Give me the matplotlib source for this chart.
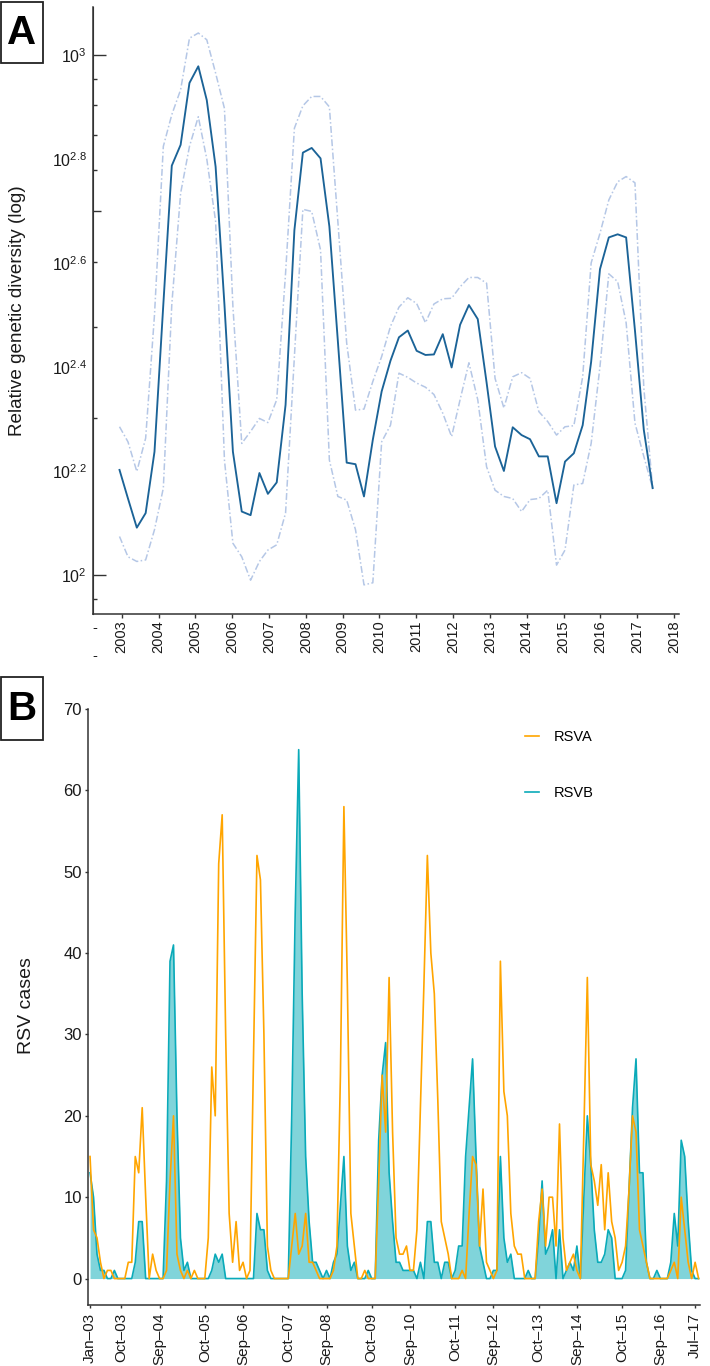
import matplotlib
matplotlib.use("Agg")
import matplotlib.pyplot as plt
import numpy as np
import pandas as pd
from matplotlib.patches import Rectangle

plt.rcParams["font.family"] = ["Liberation Sans", "DejaVu Sans"]
plt.rcParams["mathtext.fontset"] = "custom"
plt.rcParams["mathtext.rm"] = "Liberation Sans"
plt.rcParams["mathtext.it"] = "Liberation Sans:italic"
plt.rcParams["mathtext.bf"] = "Liberation Sans:bold"

# ---- Panel A: relative genetic diversity (values stored as log10 exponents)
years_a = [
    2002.94, 2003.17, 2003.41, 2003.65, 2003.89, 2004.13, 2004.36, 2004.60,
    2004.84, 2005.08, 2005.31, 2005.55, 2005.79, 2006.02, 2006.26, 2006.50,
    2006.74, 2006.97, 2007.21, 2007.45, 2007.69, 2007.92, 2008.16, 2008.40,
    2008.64, 2008.87, 2009.11, 2009.35, 2009.58, 2009.82, 2010.06, 2010.30,
    2010.53, 2010.77, 2011.01, 2011.25, 2011.48, 2011.72, 2011.96, 2012.19,
    2012.43, 2012.67, 2012.91, 2013.14, 2013.38, 2013.62, 2013.86, 2014.09,
    2014.33, 2014.57, 2014.81, 2015.04, 2015.28, 2015.52, 2015.75, 2015.99,
    2016.23, 2016.47, 2016.70, 2016.94, 2017.18, 2017.42,
]
median_exp = [
    2.202, 2.147, 2.091, 2.119, 2.237, 2.52, 2.787, 2.827, 2.946, 2.978,
    2.913, 2.785, 2.52, 2.237, 2.122, 2.115, 2.196, 2.156, 2.178, 2.327,
    2.663, 2.812, 2.821, 2.801, 2.670, 2.45, 2.216, 2.213, 2.151, 2.26,
    2.353, 2.412, 2.457, 2.47, 2.431, 2.423, 2.424, 2.463, 2.399, 2.481,
    2.519, 2.492, 2.37, 2.247, 2.2, 2.284, 2.269, 2.261, 2.228, 2.228,
    2.138, 2.218, 2.234, 2.288, 2.41, 2.588, 2.649, 2.655, 2.649, 2.47,
    2.279, 2.167,
]
upper_exp = [
    2.285, 2.256, 2.199, 2.263, 2.50, 2.824, 2.885, 2.933, 3.032, 3.042,
    3.029, 2.965, 2.897, 2.516, 2.253, 2.276, 2.301, 2.293, 2.337, 2.58,
    2.859, 2.902, 2.92, 2.92, 2.9, 2.68, 2.446, 2.317, 2.319, 2.372,
    2.42, 2.478, 2.515, 2.533, 2.522, 2.485, 2.521, 2.531, 2.532, 2.554,
    2.572, 2.572, 2.561, 2.378, 2.321, 2.381, 2.389, 2.378, 2.314, 2.295,
    2.269, 2.285, 2.287, 2.381, 2.6, 2.657, 2.721, 2.756, 2.766, 2.754,
    2.36, 2.167,
]
lower_exp = [
    2.074, 2.035, 2.026, 2.029, 2.087, 2.167, 2.52, 2.734, 2.824, 2.881,
    2.80, 2.68, 2.221, 2.061, 2.035, 1.990, 2.026, 2.048, 2.058, 2.119,
    2.42, 2.703, 2.699, 2.625, 2.221, 2.151, 2.144, 2.087, 1.981, 1.985,
    2.256, 2.288, 2.388, 2.380, 2.369, 2.361, 2.347, 2.311, 2.266, 2.337,
    2.408, 2.337, 2.208, 2.163, 2.151, 2.147, 2.122, 2.145, 2.147, 2.163,
    2.019, 2.048, 2.173, 2.176, 2.253, 2.401, 2.579, 2.564, 2.485, 2.292,
    2.228, 2.167,
]
year_ticks = list(range(2003, 2019))
ylabel_exps = [2.0, 2.2, 2.4, 2.6, 2.8, 3.0]

# ---- Panel B: monthly RSV cases, Jan 2003 onwards
rsva = [
    15, 6, 5, 2, 0, 1, 1, 0, 0, 0, 0, 2, 2, 15, 13, 21, 10, 0, 3, 1,
    0, 0, 1, 12, 20, 3, 1, 0, 1, 0, 1, 0, 0, 0, 5, 26, 20, 51, 57, 30,
    8, 2, 7, 1, 2, 0, 1, 27, 52, 49, 30, 4, 1, 0, 0, 0, 0, 0, 4, 8,
    3, 4, 8, 2, 2, 1, 0, 0, 0, 0, 1, 4, 25, 58, 36, 8, 4, 0, 0, 1,
    0, 0, 0, 12, 25, 18, 37, 18, 5, 3, 3, 4, 1, 1, 6, 21, 36, 52, 40, 35,
    22, 7, 5, 3, 0, 0, 0, 1, 0, 8, 15, 14, 4, 11, 2, 1, 0, 1, 39, 23,
    20, 8, 4, 3, 3, 0, 0, 0, 0, 7, 11, 4, 10, 10, 4, 19, 5, 1, 2, 3,
    1, 0, 18, 37, 14, 12, 9, 14, 6, 13, 7, 5, 1, 2, 4, 11, 20, 18, 6, 4,
    2, 0, 0, 0, 0, 0, 0, 1, 2, 0, 10, 6, 2, 0, 2, 0,
]
rsvb = [
    13, 10, 3, 1, 1, 0, 0, 1, 0, 0, 0, 0, 0, 2, 7, 7, 0, 0, 0, 0,
    0, 0, 12, 39, 41, 20, 5, 1, 2, 0, 0, 0, 0, 0, 0, 1, 3, 2, 3, 0,
    0, 0, 0, 0, 0, 0, 0, 0, 8, 6, 6, 1, 0, 0, 0, 0, 0, 0, 20, 45,
    65, 35, 15, 7, 2, 2, 1, 0, 1, 0, 2, 3, 9, 15, 4, 1, 2, 0, 0, 0,
    1, 0, 0, 17, 25, 29, 13, 7, 2, 2, 1, 1, 1, 1, 0, 2, 0, 7, 7, 2,
    2, 0, 2, 2, 0, 1, 4, 4, 15, 21, 27, 15, 4, 2, 0, 0, 1, 1, 15, 5,
    2, 3, 0, 0, 0, 0, 1, 0, 0, 5, 12, 3, 4, 6, 0, 6, 0, 1, 2, 1,
    4, 0, 10, 20, 14, 6, 2, 2, 3, 6, 5, 0, 0, 0, 1, 11, 21, 27, 13, 13,
    2, 0, 0, 1, 0, 0, 0, 2, 8, 4, 17, 15, 7, 1, 0, 0,
]
month_tick_labels = [
    "Jan–03", "Oct–03", "Sep–04", "Oct–05", "Sep–06", "Oct–07", "Sep–08",
    "Oct–09", "Sep–10", "Oct–11", "Sep–12", "Oct–13", "Sep–14", "Oct–15",
    "Sep–16", "Jul–17",
]

MAIN_BLUE = "#1b6397"
CI_BLUE = "#b5c7e6"
ORANGE = "#ffa500"
TEAL = "#0aaab9"
TEAL_FILL = "#80d4da"
AXIS_COLOR = "#333333"
TEXT_COLOR = "#1a1a1a"

W, H = 710, 1366
fig = plt.figure(figsize=(W / 100, H / 100), dpi=100)


def fig_box(left, top, right, bottom):
    return [left / W, 1 - bottom / H, (right - left) / W, (bottom - top) / H]


ax_a = fig.add_axes(fig_box(93, 7, 679, 614))
ax_b = fig.add_axes(fig_box(88.3, 709, 700, 1305))

# ---------------- Panel A ----------------
ci_style = (0, (4.5, 1.6, 1.0, 1.6))
ax_a.plot(years_a, 10 ** np.array(upper_exp), color=CI_BLUE, lw=1.1, ls=ci_style)
ax_a.plot(years_a, 10 ** np.array(lower_exp), color=CI_BLUE, lw=1.1, ls=ci_style)
ax_a.plot(years_a, 10 ** np.array(median_exp), color=MAIN_BLUE, lw=1.35)

ax_a.set_yscale("log")
ax_a.set_ylim(10 ** 1.925, 10 ** 3.092)
ax_a.set_xlim(2002.22, 2018.136)

ax_a.set_yticks(10 ** np.array(ylabel_exps))
ax_a.set_yticklabels(
    [r"$10^{3}$" if e == 3 else (r"$10^{2}$" if e == 2 else r"$10^{%.1f}$" % e) for e in ylabel_exps]
)
ax_a.set_yticks([90, 200, 300, 400, 600, 700, 800, 900], minor=True)
ax_a.yaxis.set_minor_formatter(matplotlib.ticker.NullFormatter())
ax_a.tick_params(axis="y", which="major", length=0, pad=4.5, labelsize=11.5, labelcolor=TEXT_COLOR)
ax_a.tick_params(axis="y", which="minor", direction="in", length=3.2, width=1.0, color=AXIS_COLOR)

# log ticks drawn inside the panel: long at decades, mid at 5x
sec = ax_a.secondary_yaxis("left")
sec.set_ticks([100, 1000])
sec.set_ticks([500], minor=True)
sec.tick_params(which="major", direction="in", length=9, width=1.0, color=AXIS_COLOR, labelleft=False)
sec.tick_params(which="minor", direction="in", length=6, width=1.0, color=AXIS_COLOR, labelleft=False)
sec.spines["left"].set_color(AXIS_COLOR)

ax_a.set_xticks(year_ticks)
ax_a.set_xticklabels([str(y) for y in year_ticks], rotation=90)
ax_a.tick_params(axis="x", direction="out", length=3, width=1.0, color=AXIS_COLOR,
                 pad=1.5, labelsize=10.5, labelcolor=TEXT_COLOR)

for ax in (ax_a, ax_b):
    ax.spines["top"].set_visible(False)
    ax.spines["right"].set_visible(False)
    ax.spines["left"].set_color(AXIS_COLOR)
    ax.spines["bottom"].set_color(AXIS_COLOR)
    ax.spines["left"].set_linewidth(1.1)
    ax.spines["bottom"].set_linewidth(1.1)
    ax.set_facecolor("white")

fig.text(18 / W, 1 - 311 / H, "Relative genetic diversity (log)", rotation=90,
         ha="center", va="center", fontsize=13.6, color=TEXT_COLOR)
fig.text(95 / W, 1 - 628 / H, "-", ha="center", va="center", fontsize=10.5, color=TEXT_COLOR)
fig.text(95 / W, 1 - 656 / H, "-", ha="center", va="center", fontsize=10.5, color=TEXT_COLOR)

# ---------------- Panel B ----------------
months = pd.date_range("2003-01-01", periods=len(rsva), freq="MS")
x_b = np.arange(len(months))
month_names = [m.strftime("%b–%y") for m in months]
tick_idx = [month_names.index(lbl) for lbl in month_tick_labels]

ax_b.fill_between(x_b, 0, rsvb, color=TEAL_FILL, lw=0)
line_b, = ax_b.plot(x_b, rsvb, color=TEAL, lw=1.2, label="RSVB")
line_a, = ax_b.plot(x_b, rsva, color=ORANGE, lw=1.2, label="RSVA")

ax_b.set_xlim(-0.5, 175.4)
ax_b.set_ylim(-3.25, 70)
ax_b.set_yticks(range(0, 71, 10))
ax_b.set_xticks(tick_idx)
ax_b.set_xticklabels(month_tick_labels, rotation=90)
ax_b.tick_params(axis="y", direction="out", length=2.5, width=1.0, color=AXIS_COLOR,
                 pad=2, labelsize=12, labelcolor=TEXT_COLOR)
ax_b.tick_params(axis="x", direction="out", length=2.5, width=1.0, color=AXIS_COLOR,
                 pad=3, labelsize=11, labelcolor=TEXT_COLOR)

ax_b.legend(handles=[line_a, line_b], loc="upper left", bbox_to_anchor=(0.714, 0.965),
            frameon=False, fontsize=10.5, handlelength=0.95, handletextpad=1.0,
            labelspacing=2.9, borderpad=0, borderaxespad=0)

fig.text(27 / W, 1 - 1006 / H, "RSV cases", rotation=90, ha="center", va="center",
         fontsize=14, color=TEXT_COLOR)

# ---------------- Panel letters ----------------
for letter, top, bottom in (("A", 2, 63), ("B", 677, 740)):
    fig.add_artist(Rectangle((1.5 / W, 1 - bottom / H), 41 / W, (bottom - top) / H,
                             transform=fig.transFigure, fill=False, ec="#222222", lw=1.3))
    fig.text(22 / W, 1 - (top + bottom) / 2 / H, letter, ha="center", va="center",
             fontsize=29, fontweight="bold", color="black")

fig.savefig("out.png", dpi=100, facecolor="white")
